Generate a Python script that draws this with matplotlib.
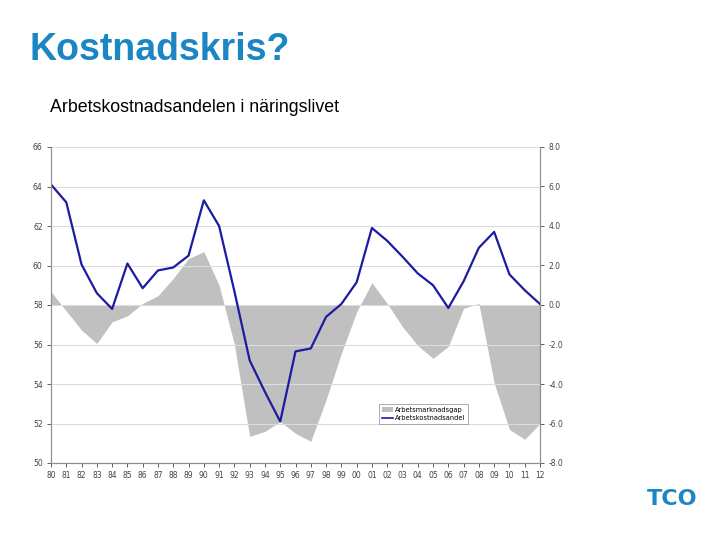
import numpy as np
import matplotlib
matplotlib.use("Agg")
import matplotlib.pyplot as plt
from matplotlib.patches import Patch
from matplotlib.lines import Line2D

years = ["80", "81", "82", "83", "84", "85", "86", "87", "88", "89", "90",
         "91", "92", "93", "94", "95", "96", "97", "98", "99", "00", "01",
         "02", "03", "04", "05", "06", "07", "08", "09", "10", "11", "12"]

# Arbetskostnadsandel (left axis)
andel = [64.1, 63.2, 60.05, 58.6, 57.8, 60.1, 58.85, 59.75, 59.9, 60.5, 63.3,
         62.0, 58.7, 55.2, 53.6, 52.1, 55.65, 55.8, 57.4, 58.05, 59.15, 61.9,
         61.25, 60.45, 59.6, 59.0, 57.85, 59.2, 60.9, 61.7, 59.55, 58.75, 58.05]

# Arbetsmarknadsgap (right axis)
gap = [0.67, -0.3, -1.27, -1.95, -0.85, -0.55, 0.08, 0.47, 1.35, 2.35, 2.7,
       1.0, -2.0, -6.65, -6.4, -5.9, -6.5, -6.9, -4.8, -2.45, -0.35, 1.13,
       0.08, -1.1, -2.05, -2.7, -2.1, -0.17, 0.08, -3.95, -6.3, -6.8, -6.0]

left_ticks = [50, 52, 54, 56, 58, 60, 62, 64, 66]
right_ticks = [-8, -6, -4, -2, 0, 2, 4, 6, 8]

x = np.arange(len(years))

fig = plt.figure(figsize=(7.2, 5.4), dpi=100)
fig.text(30 / 720, 1 - 50 / 540, "Kostnadskris?", fontsize=27, fontweight="bold",
         color="#1a86c4", va="center", ha="left", family="Liberation Sans")
fig.text(50 / 720, 1 - 108 / 540, "Arbetskostnadsandelen i näringslivet",
         fontsize=12.8, color="black", va="center", ha="left", family="Liberation Sans")

ax1 = fig.add_axes([51 / 720, 1 - 463 / 540, 489 / 720, 316 / 540])
ax2 = ax1.twinx()

ax2.fill_between(x, 0, gap, color="#c0c0c0", linewidth=0)
ax2.set_ylim(-8, 8)
ax2.set_yticks(right_ticks)
ax2.set_yticklabels(["%.1f" % v if v != 0 else "0.0" for v in right_ticks])

ax1.plot(x, andel, color="#1c1ca0", linewidth=1.6)
ax1.set_ylim(50, 66)
ax1.set_yticks(left_ticks)
ax1.set_xlim(0, len(years) - 1)
ax1.set_xticks(x)
ax1.set_xticklabels(years)
ax1.set_zorder(ax2.get_zorder() + 1)
ax1.patch.set_visible(False)
ax2.set_facecolor("white")
ax1.grid(axis="y", color="#dcdcdc", linewidth=0.8)
ax1.set_axisbelow(True)

for ax in (ax1, ax2):
    ax.tick_params(labelsize=5.5, length=3, width=0.6, colors="#444444", pad=3)
    for s in ax.spines.values():
        s.set_color("#909090")
        s.set_linewidth(0.8)
    ax.spines["top"].set_visible(False)

handles = [Patch(facecolor="#c0c0c0", edgecolor="none", label="Arbetsmarknadsgap"),
           Line2D([0], [0], color="#1c1ca0", linewidth=1.2, label="Arbetskostnadsandel")]
leg = ax1.legend(handles=handles, loc="lower left", fontsize=4.8,
                 bbox_to_anchor=((376 - 51) / 489, (463 - 427) / 316),
                 frameon=True, fancybox=False, borderpad=0.4, handlelength=1.6,
                 handletextpad=0.3, labelspacing=0.3)
leg.get_frame().set_edgecolor("#888888")
leg.get_frame().set_linewidth(0.6)

fig.text(672 / 720, 1 - 499 / 540, "TCO", fontsize=16, fontweight="bold",
         color="#1a86c4", ha="center", va="center", family="DejaVu Sans Condensed")

fig.savefig("out.png", dpi=100)
